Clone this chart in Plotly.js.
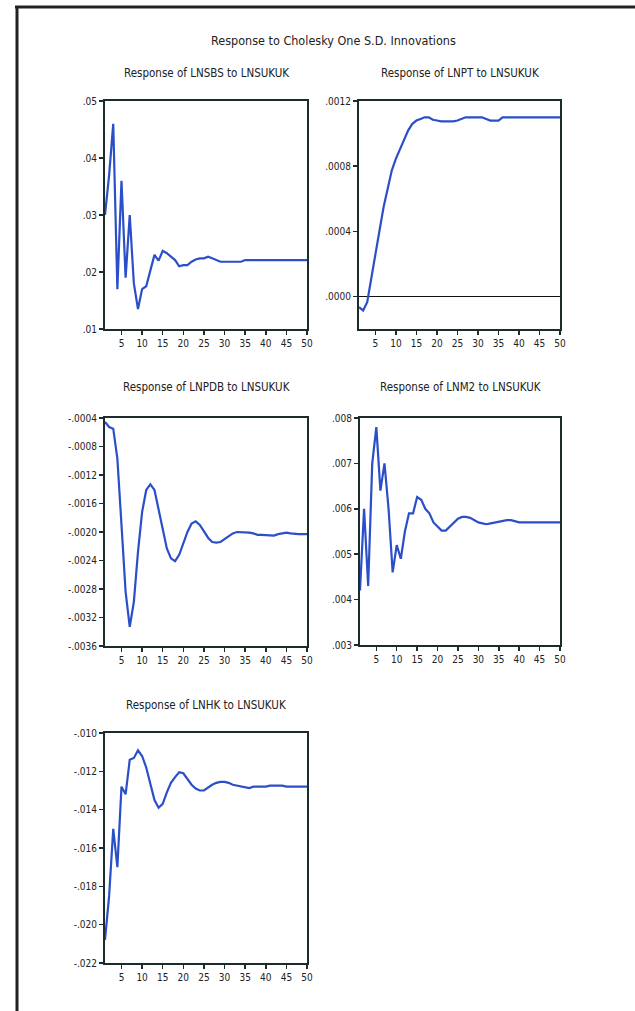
<!DOCTYPE html>
<html>
<head>
<meta charset="utf-8">
<script src="https://cdn.plot.ly/plotly-3.0.1.min.js"></script>
<style>html,body{margin:0;padding:0;background:#fff;}#chart{width:635px;height:1011px;}</style>
</head>
<body>
<div id="chart"></div>
<script>
const periods = [1,2,3,4,5,6,7,8,9,10,11,12,13,14,15,16,17,18,19,20,21,22,23,24,25,26,27,28,29,30,31,32,33,34,35,36,37,38,39,40,41,42,43,44,45,46,47,48,49,50];

const lnsbs = [0.030,0.037,0.046,0.017,0.036,0.019,0.030,0.018,0.0135,0.017,0.0175,0.0205,0.023,0.022,0.0237,0.0233,0.0227,0.0221,0.0210,0.0212,0.0212,0.0218,0.0222,0.0224,0.0224,0.0227,0.0224,0.0221,0.0218,0.0218,0.0218,0.0218,0.0218,0.0218,0.0221,0.0221,0.0221,0.0221,0.0221,0.0221,0.0221,0.0221,0.0221,0.0221,0.0221,0.0221,0.0221,0.0221,0.0221,0.0221];

const lnpt = [-0.000066,-0.000086,-0.000035,0.000119,0.000262,0.000405,0.000549,0.000672,0.000774,0.000846,0.000907,0.000969,0.00102,0.00106,0.00108,0.00109,0.00110,0.00110,0.001085,0.00108,0.001075,0.001075,0.001075,0.001075,0.00108,0.00109,0.00110,0.00110,0.00110,0.00110,0.00110,0.00109,0.00108,0.00108,0.00108,0.00110,0.00110,0.00110,0.00110,0.00110,0.00110,0.00110,0.00110,0.00110,0.00110,0.00110,0.00110,0.00110,0.00110,0.00110];

const lnpdb = [-0.000456,-0.000526,-0.00055,-0.00097,-0.0019,-0.00284,-0.00333,-0.00298,-0.00228,-0.00172,-0.00141,-0.00133,-0.00141,-0.00167,-0.00197,-0.00223,-0.00237,-0.00241,-0.00232,-0.00216,-0.0020,-0.00188,-0.00185,-0.0019,-0.0020,-0.00208,-0.00214,-0.00215,-0.00214,-0.0021,-0.00205,-0.00202,-0.0020,-0.0020,-0.0020,-0.00201,-0.00202,-0.00204,-0.00204,-0.00204,-0.00205,-0.00205,-0.00203,-0.00202,-0.00201,-0.00202,-0.00203,-0.00203,-0.00203,-0.00203];

const lnm2 = [0.0042,0.0060,0.0043,0.0070,0.0078,0.0064,0.0070,0.0060,0.0046,0.0052,0.0049,0.0055,0.0059,0.0059,0.00626,0.0062,0.0060,0.0059,0.0057,0.0056,0.00552,0.00552,0.0056,0.0057,0.00578,0.00582,0.00582,0.0058,0.00574,0.0057,0.00568,0.00566,0.00568,0.0057,0.00572,0.00573,0.00575,0.00575,0.00573,0.0057,0.0057,0.0057,0.0057,0.0057,0.0057,0.0057,0.0057,0.0057,0.0057,0.0057];

const lnhk = [-0.0208,-0.0185,-0.0150,-0.0170,-0.0128,-0.0132,-0.0114,-0.0113,-0.0109,-0.0112,-0.0118,-0.0127,-0.0135,-0.0139,-0.0137,-0.0131,-0.0126,-0.0123,-0.01205,-0.0121,-0.0124,-0.0127,-0.0129,-0.0130,-0.0130,-0.01285,-0.0127,-0.0126,-0.01255,-0.01255,-0.0126,-0.0127,-0.01275,-0.0128,-0.01285,-0.01287,-0.0128,-0.0128,-0.0128,-0.0128,-0.01275,-0.01275,-0.01275,-0.01275,-0.0128,-0.0128,-0.0128,-0.0128,-0.0128,-0.0128];

const xTickVals = [5,10,15,20,25,30,35,40,45,50];
const xTickText = ["5","10","15","20","25","30","35","40","45","50"];

const y1Vals = [0.01,0.02,0.03,0.04,0.05];
const y1Text = [".01",".02",".03",".04",".05"];
const y2Vals = [0,0.0004,0.0008,0.0012];
const y2Text = [".0000",".0004",".0008",".0012"];
const y3Vals = [-0.0036,-0.0032,-0.0028,-0.0024,-0.0020,-0.0016,-0.0012,-0.0008,-0.0004];
const y3Text = ["-.0036","-.0032","-.0028","-.0024","-.0020","-.0016","-.0012","-.0008","-.0004"];
const y4Vals = [0.003,0.004,0.005,0.006,0.007,0.008];
const y4Text = [".003",".004",".005",".006",".007",".008"];
const y5Vals = [-0.022,-0.020,-0.018,-0.016,-0.014,-0.012,-0.010];
const y5Text = ["-.022","-.020","-.018","-.016","-.014","-.012","-.010"];

const mainTitle = "Response to Cholesky One S.D. Innovations";
const panelTitles = ["Response of LNSBS to LNSUKUK","Response of LNPT to LNSUKUK","Response of LNPDB to LNSUKUK","Response of LNM2 to LNSUKUK","Response of LNHK to LNSUKUK"];

const W = 635, H = 1011;
const FONT = "Liberation Sans Narrow, DejaVu Sans Condensed, Liberation Sans, Arial, sans-serif";
const lineColor = "#2a4fc8";
const axisColor = "#1c2b2b";

// pixel boxes [left, right, top, bottom]
const boxes = [[105,307,101,329],[359,560,101,329],[105,307,418,646],[360,560,418,645],[105,307,733,963]];
const series = [lnsbs, lnpt, lnpdb, lnm2, lnhk];
const yRanges = [[0.01,0.05],[-0.0002,0.0012],[-0.0036,-0.0004],[0.003,0.008],[-0.022,-0.010]];
const yTicks = [[y1Vals,y1Text],[y2Vals,y2Text],[y3Vals,y3Text],[y4Vals,y4Text],[y5Vals,y5Text]];

const data = [];
const layout = {
  width: W, height: H,
  margin: {l:0, r:0, t:0, b:0},
  paper_bgcolor: "#fff", plot_bgcolor: "#fff",
  showlegend: false,
  font: {family: FONT, size: 10, color: "#222"},
  annotations: [],
  shapes: [
    {type:"line", xref:"paper", yref:"paper", x0:15/W, x1:1, y0:1-7/H, y1:1-7/H, line:{color:"#222", width:3}},
    {type:"line", xref:"paper", yref:"paper", x0:17/W, x1:17/W, y0:1-6/H, y1:0, line:{color:"#222", width:3}}
  ]
};

layout.annotations.push({text: mainTitle, xref:"paper", yref:"paper", x:333/W, y:1-41/H, xanchor:"center", yanchor:"middle", showarrow:false, font:{family:FONT, size:12.5, color:"#222"}});

const titleY = [73, 73, 387, 387, 705];
for (let i = 0; i < 5; i++) {
  const b = boxes[i];
  const ax = i === 0 ? "" : String(i+1);
  data.push({x: periods, y: series[i], type:"scatter", mode:"lines", xaxis:"x"+ax, yaxis:"y"+ax, line:{color:lineColor, width:2.2}, hoverinfo:"skip"});
  layout["xaxis"+ax] = {
    domain: [b[0]/W, b[1]/W], anchor: "y"+ax, range: [1,50],
    tickvals: xTickVals, ticktext: xTickText, ticks:"outside", ticklen:4, tickwidth:1.5, tickcolor:axisColor,
    showline:true, linecolor:axisColor, linewidth:2, mirror:true, showgrid:false, zeroline:false,
    tickfont:{family:FONT, size:10, color:"#222"}, fixedrange:true
  };
  layout["yaxis"+ax] = {
    domain: [1-b[3]/H, 1-b[2]/H], anchor: "x"+ax, range: yRanges[i],
    tickvals: yTicks[i][0], ticktext: yTicks[i][1], ticks:"outside", ticklen:4, tickwidth:1.5, tickcolor:axisColor,
    showline:true, linecolor:axisColor, linewidth:2, mirror:true, showgrid:false,
    zeroline: i === 1, zerolinecolor:"#111", zerolinewidth:1.5,
    tickfont:{family:FONT, size:10, color:"#222"}, fixedrange:true
  };
  layout.annotations.push({text: panelTitles[i], xref:"paper", yref:"paper", x:(b[0]+b[1])/2/W, y:1-titleY[i]/H, xanchor:"center", yanchor:"middle", showarrow:false, font:{family:FONT, size:11.5, color:"#222"}});
}

Plotly.newPlot("chart", data, layout, {displayModeBar:false, staticPlot:true});
</script>
</body>
</html>
